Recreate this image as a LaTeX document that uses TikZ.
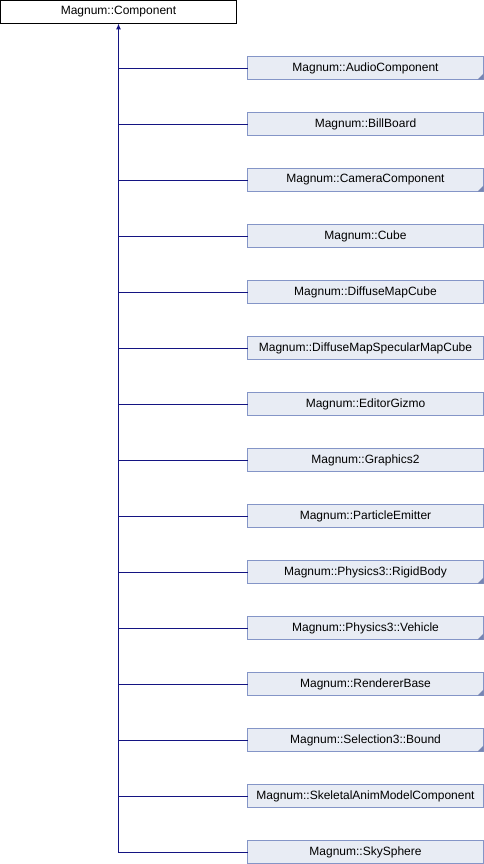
\documentclass[tikz,border=0pt]{standalone}
\usepackage{fontspec}
\setmainfont{Liberation Sans}
\usepackage{xcolor}
\usetikzlibrary{arrows.meta}
\definecolor{edgeblue}{RGB}{20,20,130}
\definecolor{boxfill}{HTML}{E8ECF4}
\definecolor{boxline}{HTML}{8495C7}

\begin{document}
\begin{tikzpicture}[x=1pt,y=-1pt,
	class/.style={draw=boxline,fill=boxfill,line width=1pt,minimum width=236pt,minimum height=23pt,inner sep=0pt,outer sep=0pt,font=\fontsize{12}{14}\selectfont},
	tri/.style={fill=boxline!90!black}]
\useasboundingbox (0,0) rectangle (484,864);

\node[draw,fill=white,line width=1pt,minimum width=236pt,minimum height=23pt,inner sep=0pt,outer sep=0pt,font=\fontsize{12}{14}\selectfont] (root) at (118.5,12) {Magnum::Component};
\coordinate (trunk) at (118.5,12);

\foreach \i/\name/\t in {1/AudioComponent/1,2/BillBoard/0,3/CameraComponent/1,4/Cube/0,
	5/DiffuseMapCube/0,6/DiffuseMapSpecularMapCube/0,7/EditorGizmo/0,8/Graphics2/0,
	9/ParticleEmitter/0,10/Physics3::RigidBody/1,11/Physics3::Vehicle/1,12/RendererBase/1,
	13/Selection3::Bound/1,14/SkeletalAnimModelComponent/0,15/SkySphere/0}
{
	\node[class] (c\i) at (365.5,12+56*\i) {Magnum::\name};
	\draw[edgeblue,line width=1pt] ([yshift=-.5pt]c\i.west) -- ([yshift=-.5pt]c\i.west -| trunk);
	\ifnum\t=1
		\fill[tri] (c\i.south east) -- ++(-6,0) -- ++(6,-6) -- cycle;
	\fi
}

\draw[edgeblue,line width=1pt,-{Latex[length=6pt,width=5pt]}] ([yshift=-.5pt]c15.west -| trunk) -- (trunk |- root.south);

\end{tikzpicture}
\end{document}
